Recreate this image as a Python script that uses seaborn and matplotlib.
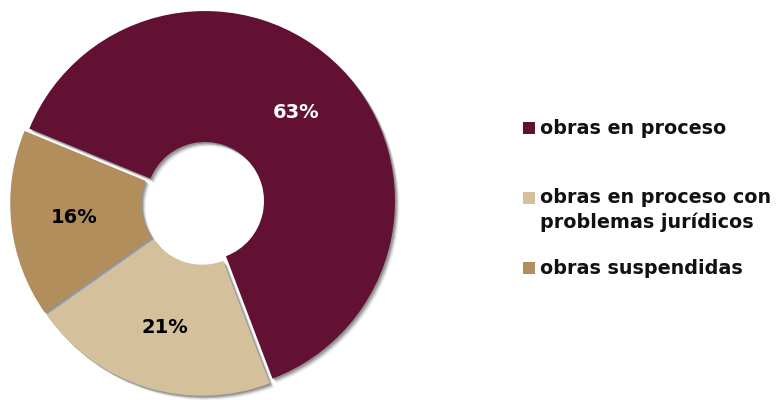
import matplotlib
matplotlib.use("Agg")
import matplotlib.pyplot as plt
from matplotlib.patches import Rectangle
import seaborn as sns

# Status of public works (share of total)
categories = ["obras en proceso",
              "obras en proceso con\nproblemas jurídicos",
              "obras suspendidas"]
shares = [63, 21, 16]
colors = ["#621132", "#D4C19C", "#B38E5D"]
label_colors = ["white", "black", "black"]

sns.set_theme(style="white")
plt.rcParams["font.family"] = ["DejaVu Sans"]

W, H = 781, 400
fig = plt.figure(figsize=(W / 100, H / 100), dpi=100)
ax = fig.add_axes([0, 0, 1, 1])

center = (203, 197)
radius = 190
hole = 59
start = 157.6
# small separation between the segments (in pixel units of this axes)
explode = [2.8] * len(shares)
ring = dict(width=radius - hole, linewidth=0)

# soft drop shadow under the ring
for dx, alpha in [(1.5, 0.35), (2.5, 0.28), (3.5, 0.16), (4.5, 0.08)]:
    ax.pie(shares, explode=explode, startangle=start, counterclock=False,
           radius=radius, center=(center[0] + dx, center[1] - dx),
           colors=["#5a5a5a"] * len(shares),
           wedgeprops=dict(ring, alpha=alpha))

wedges, _, pct = ax.pie(shares, explode=explode, startangle=start,
                        counterclock=False, radius=radius, center=center,
                        colors=colors, wedgeprops=ring,
                        autopct="%d%%", pctdistance=0.67)
for t, c in zip(pct, label_colors):
    t.set_color(c)
    t.set_fontsize(14)
    t.set_fontweight("bold")

ax.set_xlim(0, W)
ax.set_ylim(0, H)
ax.set_aspect("equal")
ax.axis("off")

# legend built by hand to keep the uneven spacing between entries
legend_y = [272, 190, 132]
for cat, col, y in zip(categories, colors, legend_y):
    n = cat.count("\n")
    top = y + n * 12
    ax.add_patch(Rectangle((523, top - 6), 12, 12, facecolor=col, linewidth=0))
    ax.text(540, y, cat, ha="left", va="center", fontsize=13.8,
            fontweight="bold", color="#111111", linespacing=1.3)

fig.savefig("out.png", dpi=100)
